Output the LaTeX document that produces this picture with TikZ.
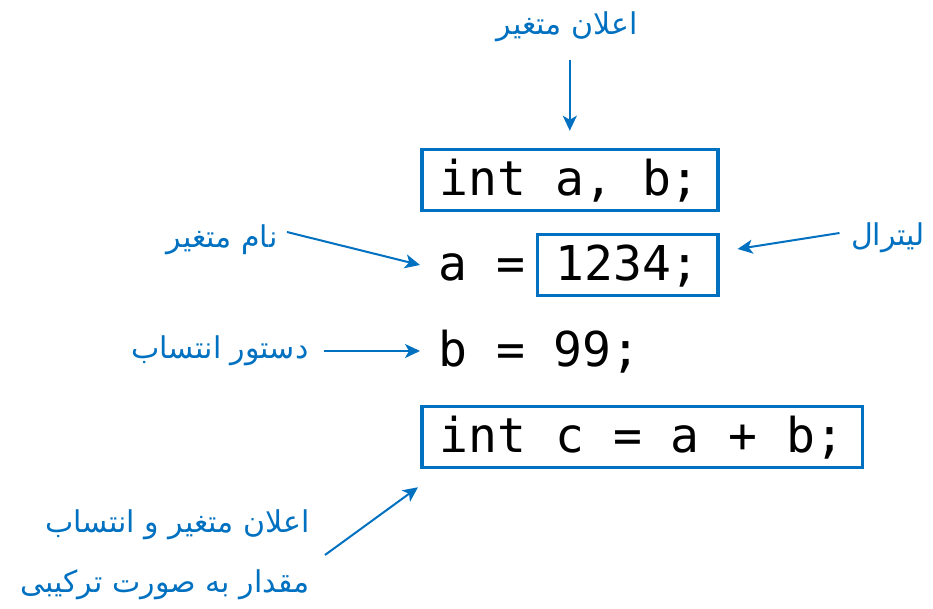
\documentclass[tikz,border=0pt]{standalone}
\usepackage{fontspec}
\setmonofont{DejaVu Sans Mono}
\newfontfamily\persianfont[Script=Arabic]{DejaVu Sans}
\TeXXeTstate=1
\usetikzlibrary{arrows.meta, positioning}

\begin{document}
\begin{tikzpicture}[
    x=1pt, y=-1pt,
    code/.style = {font=\ttfamily\fontsize{48}{48}\selectfont, text height=38pt, text depth=8pt, inner ysep=7.5pt, inner xsep=18pt, anchor=base west},
    codebox/.style = {code, draw=codeblue, line width=3.5pt},
    plain/.style = {code, inner xsep=0pt},
    note/.style = {font=\persianfont\fontsize{30}{60}\selectfont, text=codeblue, align=right},
    arrow/.style = {draw=codeblue, line width=2pt, -{Stealth[length=15pt, width=14pt, inset=4pt]}}
]
    % Colors definition
    \definecolor{codeblue}{RGB}{0, 112, 192}

    \useasboundingbox (0,0) rectangle (933,608);

    % Code lines
    \node (decl) [codebox] at (420,195) {int a, b;};
    \node (aeq) [plain] at (438,280) {a =};
    \node (lit) [codebox] at (535.6,280) {1234;};
    \node (bline) [plain] at (438,366) {b = 99;};
    \node (sum) [codebox] at (420,452) {int c = a + b;};

    % Notes
    \node (decllbl) [note] at (567,27) {\beginR اعلان متغیر\endR};
    \node (namelbl) [note] at (222,240) {\beginR نام متغیر\endR};
    \node (litlbl) [note] at (888,238) {\beginR لیترال\endR};
    \node (assignlbl) [note] at (220,351) {\beginR دستور انتساب\endR};
    \node (combolbl) [note] at (165,555) {\beginR اعلان متغیر و انتساب\endR\\\beginR مقدار به صورت ترکیبی\endR};

    % Connections
    \draw [arrow, shorten >=17pt] ([yshift=-14pt]decllbl.south -| decl.north) -- (decl.north);
    \draw [arrow] ([xshift=6pt,yshift=8pt]namelbl.east) -- ([xshift=-18pt]aeq.west);
    \draw [arrow] ([xshift=-8pt,yshift=5pt]litlbl.west) -- ([xshift=18pt,yshift=16pt]lit.east);
    \draw [arrow] ([xshift=12pt]assignlbl.east) -- ([xshift=-18pt]bline.west);
    \draw [arrow] ([xshift=12pt]combolbl.east) -- ([xshift=-2pt,yshift=-18pt]sum.south west);

\end{tikzpicture}
\end{document}
